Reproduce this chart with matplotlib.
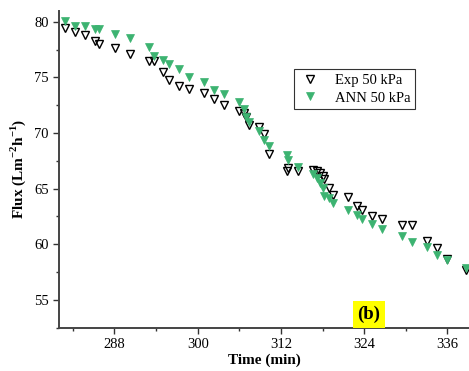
import matplotlib
matplotlib.use("Agg")
import matplotlib.pyplot as plt
from matplotlib.ticker import MultipleLocator

time_min = [280.84, 282.28, 283.72, 285.16, 285.78, 288.04, 290.2, 292.99, 293.71, 295.03,
            295.9, 297.31, 298.75, 300.9, 302.31, 303.75, 305.91, 306.63, 306.92, 307.35,
            308.84, 309.51, 310.23, 312.9, 313.0, 314.46, 316.62, 317.25, 317.58, 318.09,
            318.23, 318.88, 319.5, 321.66, 323.01, 323.73, 325.18, 326.62, 329.5, 330.94,
            333.04, 334.48, 335.93, 338.72]

ann_flux = [80.06, 79.64, 79.64, 79.32, 79.32, 78.89, 78.51, 77.73, 76.96, 76.56,
            76.17, 75.75, 75.03, 74.61, 73.86, 73.50, 72.83, 72.16, 71.44, 70.99,
            70.18, 69.37, 68.88, 68.02, 67.57, 66.97, 66.36, 65.93, 65.48, 65.03,
            64.34, 64.13, 63.71, 63.08, 62.63, 62.27, 61.80, 61.37, 60.75, 60.23,
            59.78, 59.04, 58.59, 57.84]

exp_flux = [79.41, 79.05, 78.81, 78.29, 78.00, 77.61, 77.10, 76.51, 76.50, 75.45,
            74.81, 74.20, 73.93, 73.62, 73.05, 72.52, 71.98, 71.84, 71.44, 70.76,
            70.57, 69.91, 68.11, 66.59, 66.86, 66.59, 66.68, 66.59, 66.41, 66.18,
            65.87, 65.10, 64.47, 64.22, 63.44, 63.08, 62.57, 62.25, 61.73, 61.73,
            60.30, 59.64, 58.65, 57.69]

x_ticks = [288, 300, 312, 324, 336]
y_ticks = [55, 60, 65, 70, 75, 80]

plt.rcParams['font.family'] = ['Liberation Serif', 'DejaVu Serif']
plt.rcParams['mathtext.fontset'] = 'custom'
plt.rcParams['mathtext.rm'] = 'Liberation Serif'
plt.rcParams['mathtext.bf'] = 'Liberation Serif:bold'

fig = plt.figure(figsize=(4.69, 3.71), dpi=100)
ax = fig.add_axes([0.1258, 0.1167, 0.8742, 0.8543])

green = '#3cb371'
ax.plot(time_min, exp_flux, linestyle='none', marker='v', markersize=6,
        markerfacecolor='none', markeredgecolor='black', markeredgewidth=1.0,
        label='Exp 50 kPa')
ax.plot(time_min, ann_flux, linestyle='none', marker='v', markersize=6,
        markerfacecolor=green, markeredgecolor=green, markeredgewidth=0.5,
        label='ANN 50 kPa')

ax.set_xlim(280, 339.1)
ax.set_ylim(52.5, 81)
ax.set_xticks(x_ticks)
ax.set_yticks(y_ticks)
ax.xaxis.set_minor_locator(MultipleLocator(6))
ax.yaxis.set_minor_locator(MultipleLocator(2.5))
ax.tick_params(axis='both', which='major', direction='out', length=4, width=1,
               labelsize=10.5, color='#333333')
ax.tick_params(axis='both', which='minor', direction='out', length=2.5, width=1,
               color='#333333')

for s in ['top', 'right']:
    ax.spines[s].set_visible(False)
for s in ['left', 'bottom']:
    ax.spines[s].set_linewidth(1.4)
    ax.spines[s].set_color('#444444')

ax.set_xlabel('Time (min)', fontsize=11, fontweight='bold', labelpad=2)
ax.set_ylabel(r'Flux (Lm$^{\mathbf{-2}}$h$^{\mathbf{-1}}$)', fontsize=11,
              fontweight='bold', labelpad=4)

leg = ax.legend(loc='upper left', bbox_to_anchor=(0.556, 0.838), fontsize=10.5,
                frameon=True, fancybox=False, edgecolor='black',
                handletextpad=1.0, borderpad=0.3, labelspacing=0.3,
                handlelength=1.5)
leg.get_frame().set_linewidth(0.8)

ax.text(324.7, 53.7, '(b)', fontsize=13.5, fontweight='bold', ha='center',
        va='center', bbox=dict(facecolor='#ffff00', edgecolor='none', pad=3.5))

fig.savefig('out.png', dpi=100)
